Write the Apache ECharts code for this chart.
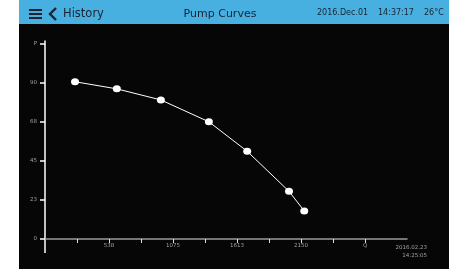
<!DOCTYPE html>
<html><head><meta charset="utf-8">
<script src="https://cdn.jsdelivr.net/npm/echarts@6/dist/echarts.min.js"></script>
<style>html,body{margin:0;padding:0;background:#ffffff;}#c{width:456px;height:269px;}</style>
</head><body><div id="c"></div>
<script>
// Data
const flowQ = [252, 603, 973, 1376, 1698, 2049, 2177];
const pressureP = [90.7, 86.6, 80.2, 67.6, 50.6, 27.5, 16.2];
const xTickValues = [269, 538, 806, 1075, 1344, 1613, 1881, 2150, 2419, 2688];
const xLabelValues = [538, 1075, 1613, 2150, 2688];
const xLabelTexts = ['538', '1075', '1613', '2150', 'Q'];
const yTickValues = [0, 22.5, 45, 67.5, 90, 112.5];
const yLabelTexts = ['0', '23', '45', '68', '90', 'P'];
const titleText = 'Pump Curves';
const navText = 'History';
const dateText = '2016.Dec.01';
const timeText = '14:37:17';
const tempText = '26°C';
const stampText = '2016.02.23\n14:25:05';

const FONT = 'DejaVu Sans';
const chart = echarts.init(document.getElementById('c'), null, {renderer: 'canvas'});
const points = flowQ.map((q, i) => [q, pressureP[i]]);
const textColor = '#1b2332';

chart.setOption({
  animation: false,
  backgroundColor: 'transparent',
  graphic: [
    {type: 'rect', z: -10, shape: {x: 19, y: 24, width: 430, height: 245}, style: {fill: '#060606'}},
    {type: 'rect', z: -10, shape: {x: 19, y: 0, width: 430, height: 24}, style: {fill: '#47b0e1'}},
    {type: 'rect', shape: {x: 29, y: 9, width: 13, height: 2}, style: {fill: textColor}},
    {type: 'rect', shape: {x: 29, y: 13, width: 13, height: 2}, style: {fill: textColor}},
    {type: 'rect', shape: {x: 29, y: 17, width: 13, height: 2}, style: {fill: textColor}},
    {type: 'polyline', shape: {points: [[56, 8], [50, 14], [56, 20]]}, style: {stroke: textColor, lineWidth: 2.4, fill: null}},
    {type: 'text', style: {x: 63, y: 14, text: navText, font: '11.5px "' + FONT + '"', fill: textColor, textVerticalAlign: 'middle'}},
    {type: 'text', style: {x: 220, y: 14, text: titleText, font: '11px "' + FONT + '"', fill: textColor, textAlign: 'center', textVerticalAlign: 'middle'}},
    {type: 'text', style: {x: 317, y: 13, text: dateText, font: '8px "' + FONT + '"', fill: textColor, textVerticalAlign: 'middle'}},
    {type: 'text', style: {x: 378, y: 13, text: timeText, font: '8px "' + FONT + '"', fill: textColor, textVerticalAlign: 'middle'}},
    {type: 'text', style: {x: 424, y: 13, text: tempText, font: '8px "' + FONT + '"', fill: textColor, textVerticalAlign: 'middle'}},
    {type: 'text', style: {x: 427, y: 244, text: stampText, font: '5.5px "' + FONT + '"', fill: '#a0a0a0', textAlign: 'right', lineHeight: 8}},
    // y-axis line continues below the x axis
    {type: 'line', shape: {x1: 45, y1: 239, x2: 45, y2: 253}, style: {stroke: '#ffffff', lineWidth: 1.5}}
  ],
  grid: {left: 45, right: 49, top: 41, bottom: 30, containLabel: false},
  xAxis: {
    type: 'value', min: 0, max: 3040,
    axisLine: {show: true, onZero: false, lineStyle: {color: '#9a9a9a', width: 1.5}},
    axisTick: {show: true, inside: false, length: 4, customValues: xTickValues, lineStyle: {color: '#e0e0e0', width: 1}},
    axisLabel: {show: true, customValues: xLabelValues, margin: 4, color: '#a0a0a0', fontSize: 5.5, fontFamily: FONT,
      formatter: v => xLabelTexts[xLabelValues.indexOf(v)] ?? ''},
    splitLine: {show: false}
  },
  yAxis: {
    type: 'value', min: 0, max: 114.2,
    axisLine: {show: true, onZero: false, lineStyle: {color: '#ffffff', width: 1.5}},
    axisTick: {show: true, inside: false, length: 5, customValues: yTickValues, lineStyle: {color: '#ffffff', width: 1.5}},
    axisLabel: {show: true, customValues: yTickValues, margin: 8, color: '#a0a0a0', fontSize: 5.5, fontFamily: FONT,
      formatter: v => yLabelTexts[yTickValues.indexOf(v)] ?? ''},
    splitLine: {show: false}
  },
  series: [{
    type: 'line', data: points, symbol: 'circle', symbolSize: [8, 7], showSymbol: true,
    lineStyle: {color: '#ffffff', width: 1},
    itemStyle: {color: '#ffffff', borderWidth: 0}
  }]
});
</script></body></html>
